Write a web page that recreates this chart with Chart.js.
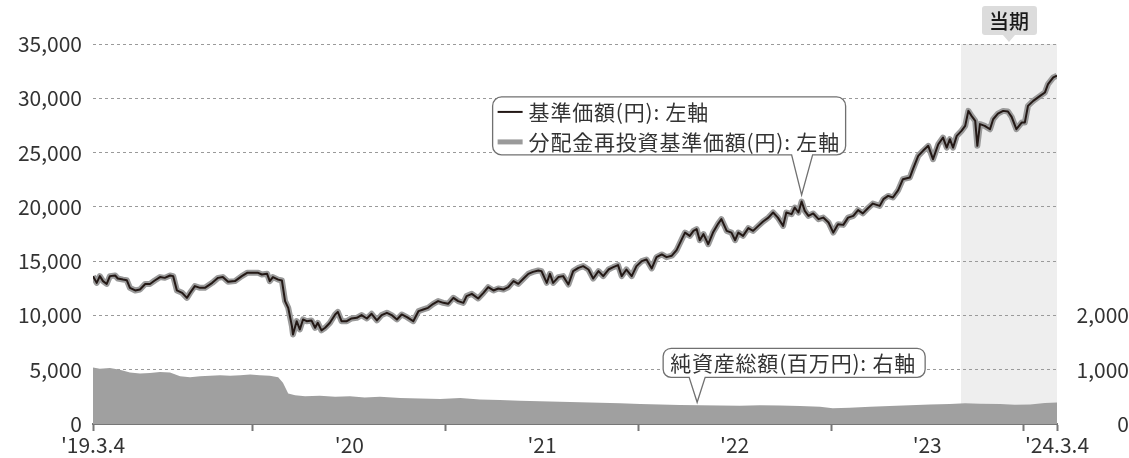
<!DOCTYPE html>
<html>
<head>
<meta charset="utf-8">
<script src="https://cdn.jsdelivr.net/npm/chart.js@4.4.1/dist/chart.umd.min.js"></script>
<style>
  html, body { margin: 0; padding: 0; background: #fff; }
  #wrap { width: 1129px; height: 458px; }
</style>
</head>
<body>
<div id="wrap"><canvas id="chart"></canvas></div>
<script>
// days since '19.3.4
const days = [0,7,13,19,26,32,42,47,57,64,70,80,89,99,108,117,127,136,146,152,159,169,178,184,193,203,212,226,237,246,256,269,282,292,301,313,320,330,335,341,351,358,364,370,377,379,386,392,398,405,414,421,426,433,440,449,459,464,471,481,490,500,509,519,528,538,547,557,566,576,585,595,607,617,626,635,645,654,664,673,683,692,702,708,718,730,740,749,759,768,778,787,797,806,816,825,834,844,850,860,866,872,882,891,901,910,920,929,939,948,958,967,977,986,995,1002,1011,1021,1030,1040,1049,1059,1068,1078,1087,1097,1106,1116,1122,1131,1138,1144,1150,1157,1166,1175,1185,1191,1201,1210,1217,1223,1232,1242,1251,1261,1270,1280,1289,1298,1308,1314,1324,1330,1337,1343,1349,1356,1365,1375,1384,1394,1403,1412,1422,1431,1441,1450,1459,1469,1478,1491,1498,1507,1516,1526,1535,1548,1554,1564,1573,1583,1592,1602,1611,1618,1624,1630,1637,1646,1653,1659,1665,1672,1676,1681,1690,1700,1706,1715,1725,1734,1741,1750,1760,1766,1772,1782,1795,1804,1810,1820,1827]
// 基準価額 (円)  = 分配金再投資基準価額
const nav = [13620,13000,13620,13160,12900,13620,13680,13400,13300,13250,12540,12300,12390,12900,12900,13220,13530,13460,13680,13620,12300,12080,11620,12080,12700,12540,12540,13000,13460,13530,13100,13160,13620,13920,13920,13920,13770,13830,13160,13530,13300,13220,11320,10700,9010,8250,9470,8710,9630,9470,9540,8860,9320,8620,8860,9320,10090,10330,9470,9470,9720,9780,10030,9720,10150,9540,10030,10240,10030,9630,10090,9840,9470,10400,10550,10700,11070,11320,11160,11070,11620,11320,11160,11780,11990,11560,12080,12600,12300,12480,12390,12600,13160,12910,13400,13830,14010,14140,14080,13000,13830,13000,13530,13620,12850,14080,14380,14540,14230,13400,14080,13620,14230,14450,14630,13620,14230,13620,14540,15000,15150,14330,15370,15620,15370,15500,16010,17030,17630,17330,17790,17950,16930,17490,16560,17630,18460,18870,17790,17630,16930,17630,17330,18040,17790,18250,18650,19010,19480,19010,18250,19480,19330,19940,19480,20490,19630,19170,19390,18870,19010,18560,17630,18400,18340,19010,19170,19700,19400,19900,20300,20090,20710,21010,20860,21540,22550,22700,23470,24700,25160,25620,24390,25770,26380,25460,26230,25460,26540,27000,27460,28840,28380,27920,25620,27620,27460,27150,28070,28590,28840,28780,28290,27150,27760,27760,29300,29760,30220,30530,31300,31920,32080]
// 純資産総額 (百万円)
const assetDays = [0,13,32,51,70,89,108,127,146,165,184,203,222,241,260,279,298,316,335,351,360,370,383,402,430,459,487,515,544,582,620,658,696,733,771,809,847,885,923,961,999,1037,1075,1112,1150,1188,1226,1264,1302,1340,1378,1402,1434,1473,1510,1548,1586,1624,1653,1681,1719,1747,1776,1804,1827]
const assets = [1040,1020,1030,1000,950,930,940,960,950,880,860,880,890,900,890,900,910,900,890,860,760,560,530,510,520,500,510,490,500,480,470,460,480,450,440,430,420,410,400,390,380,370,360,350,345,340,335,345,340,330,320,290,300,320,330,345,360,370,380,375,370,355,360,385,395]

const leftTicks = [0,5000,10000,15000,20000,25000,30000,35000]
const rightTicks = [0,1000,2000]
const markDays = [0,303,669,1034,1399,1764,1827]
const labelDays = [0,486,851,1216,1581,1827]
const labelText = ["'19.3.4","'20","'21","'22","'23","'24.3.4"]
const periodStart = 1645
const periodEnd = 1827

const FONT = '"Noto Sans CJK JP", "Noto Sans", sans-serif'
const TEXT = '#333333'

function bubble(ctx, l, t, r, b, rad, tipX, tipY, baseL, baseR, fill, stroke){
  ctx.beginPath()
  ctx.moveTo(l + rad, t)
  ctx.lineTo(r - rad, t)
  ctx.arcTo(r, t, r, t + rad, rad)
  ctx.lineTo(r, b - rad)
  ctx.arcTo(r, b, r - rad, b, rad)
  ctx.lineTo(baseR, b)
  ctx.lineTo(tipX, tipY)
  ctx.lineTo(baseL, b)
  ctx.lineTo(l + rad, b)
  ctx.arcTo(l, b, l, b - rad, rad)
  ctx.lineTo(l, t + rad)
  ctx.arcTo(l, t, l + rad, t, rad)
  ctx.closePath()
  ctx.fillStyle = fill
  ctx.fill()
  if(stroke){
    ctx.strokeStyle = stroke
    ctx.lineWidth = 1.3
    ctx.stroke()
  }
}

const periodShade = {
  id: 'periodShade',
  beforeDraw(chart){
    const {ctx, chartArea, scales} = chart
    const x0 = scales.x.getPixelForValue(periodStart)
    const x1 = scales.x.getPixelForValue(periodEnd)
    ctx.save()
    ctx.fillStyle = '#eeeeee'
    ctx.fillRect(x0, chartArea.top, x1 - x0, chartArea.bottom - chartArea.top)
    ctx.restore()
  }
}

const notes = {
  id: 'notes',
  afterDraw(chart){
    const {ctx, scales} = chart
    ctx.save()

    // 当期 label
    const cx = scales.x.getPixelForValue((periodStart + periodEnd) / 2)
    bubble(ctx, cx - 27, 6, cx + 28, 35, 3, cx, 42, cx - 6, cx + 6, '#dcdcdc', null)
    ctx.fillStyle = '#1a1a1a'
    ctx.font = '500 20px ' + FONT
    ctx.textAlign = 'center'
    ctx.textBaseline = 'middle'
    ctx.fillText('当期', cx, 21)

    // legend bubble
    let tx = scales.x.getPixelForValue(1343)
    let ty = scales.y.getPixelForValue(21100)
    let l = tx - 309, t = ty - 98, r = tx + 44, b = ty - 40
    bubble(ctx, l, t, r, b, 9, tx, ty, tx - 10, tx + 11, '#ffffff', '#707070')
    ctx.lineCap = 'butt'
    ctx.strokeStyle = '#231815'
    ctx.lineWidth = 2
    ctx.beginPath(); ctx.moveTo(l + 5, t + 15); ctx.lineTo(l + 30, t + 15); ctx.stroke()
    ctx.strokeStyle = '#9a9a9a'
    ctx.lineWidth = 5
    ctx.beginPath(); ctx.moveTo(l + 5, t + 45); ctx.lineTo(l + 30, t + 45); ctx.stroke()
    ctx.fillStyle = TEXT
    ctx.font = '21px ' + FONT
    ctx.letterSpacing = '0.8px'
    ctx.textAlign = 'left'
    ctx.fillText('基準価額(円): 左軸', l + 36, t + 15)
    ctx.fillText('分配金再投資基準価額(円): 左軸', l + 36, t + 45)

    // net assets bubble
    tx = scales.x.getPixelForValue(1145)
    ty = scales.y1.getPixelForValue(400)
    l = tx - 34; t = ty - 54; r = tx + 228; b = ty - 25
    bubble(ctx, l, t, r, b, 8, tx, ty, tx - 8, tx + 8, '#ffffff', '#707070')
    ctx.fillStyle = TEXT
    ctx.fillText('純資産総額(百万円): 右軸', l + 7, t + 15)

    ctx.restore()
  }
}

const navPoints = days.map((d, i) => ({x: d, y: nav[i]}))
const assetPoints = assetDays.map((d, i) => ({x: d, y: assets[i]}))

Chart.defaults.font.family = FONT
Chart.defaults.font.size = 21
Chart.defaults.color = TEXT

const chart = new Chart(document.getElementById('chart').getContext('2d'), {
  type: 'line',
  data: {
    datasets: [
      {
        label: '基準価額(円)',
        data: navPoints,
        yAxisID: 'y',
        borderColor: '#231815',
        borderWidth: 2,
        pointRadius: 0,
        tension: 0,
        borderJoinStyle: 'round',
        order: 0
      },
      {
        label: '分配金再投資基準価額(円)',
        data: navPoints,
        yAxisID: 'y',
        borderColor: '#9a9a9a',
        borderWidth: 6,
        pointRadius: 0,
        tension: 0,
        borderJoinStyle: 'round',
        order: 1
      },
      {
        label: '純資産総額(百万円)',
        data: assetPoints,
        yAxisID: 'y1',
        borderWidth: 0,
        borderColor: '#a0a0a0',
        backgroundColor: '#a0a0a0',
        fill: 'origin',
        pointRadius: 0,
        tension: 0,
        order: 2
      }
    ]
  },
  options: {
    responsive: true,
    maintainAspectRatio: false,
    animation: false,
    layout: { padding: { top: 44, right: 0, bottom: 0, left: 0 } },
    plugins: {
      legend: { display: false },
      tooltip: { enabled: false }
    },
    scales: {
      x: {
        type: 'linear',
        min: 0,
        max: 1827,
        afterBuildTicks: s => {
          const all = [...new Set(markDays.concat(labelDays))].sort((a, b) => a - b)
          s.ticks = all.map(v => ({value: v}))
        },
        afterFit: s => { s.height = 34 },
        ticks: {
          autoSkip: false,
          maxRotation: 0,
          padding: 1,
          callback: v => {
            const i = labelDays.indexOf(v)
            return i >= 0 ? labelText[i] : ''
          }
        },
        grid: {
          drawOnChartArea: false,
          tickLength: 7,
          tickWidth: 2,
          tickColor: c => (c.tick && markDays.includes(c.tick.value)) ? '#777777' : 'rgba(0,0,0,0)'
        },
        border: { color: '#777777', width: 2 }
      },
      y: {
        position: 'left',
        min: 0,
        max: 35000,
        afterBuildTicks: s => { s.ticks = leftTicks.map(v => ({value: v})) },
        afterFit: s => { s.width = 93 },
        ticks: {
          padding: 11,
          callback: v => v.toLocaleString('en-US')
        },
        grid: { color: '#9a9a9a', lineWidth: 1, drawTicks: false },
        border: { display: false, dash: [3, 3] }
      },
      y1: {
        position: 'right',
        min: 0,
        max: 7000,
        afterBuildTicks: s => { s.ticks = rightTicks.map(v => ({value: v})) },
        afterFit: s => { s.width = 72 },
        ticks: {
          padding: 2,
          crossAlign: 'far',
          callback: v => v.toLocaleString('en-US')
        },
        grid: { display: false, drawTicks: false },
        border: { display: false }
      }
    }
  },
  plugins: [periodShade, notes]
})
</script>
</body>
</html>
